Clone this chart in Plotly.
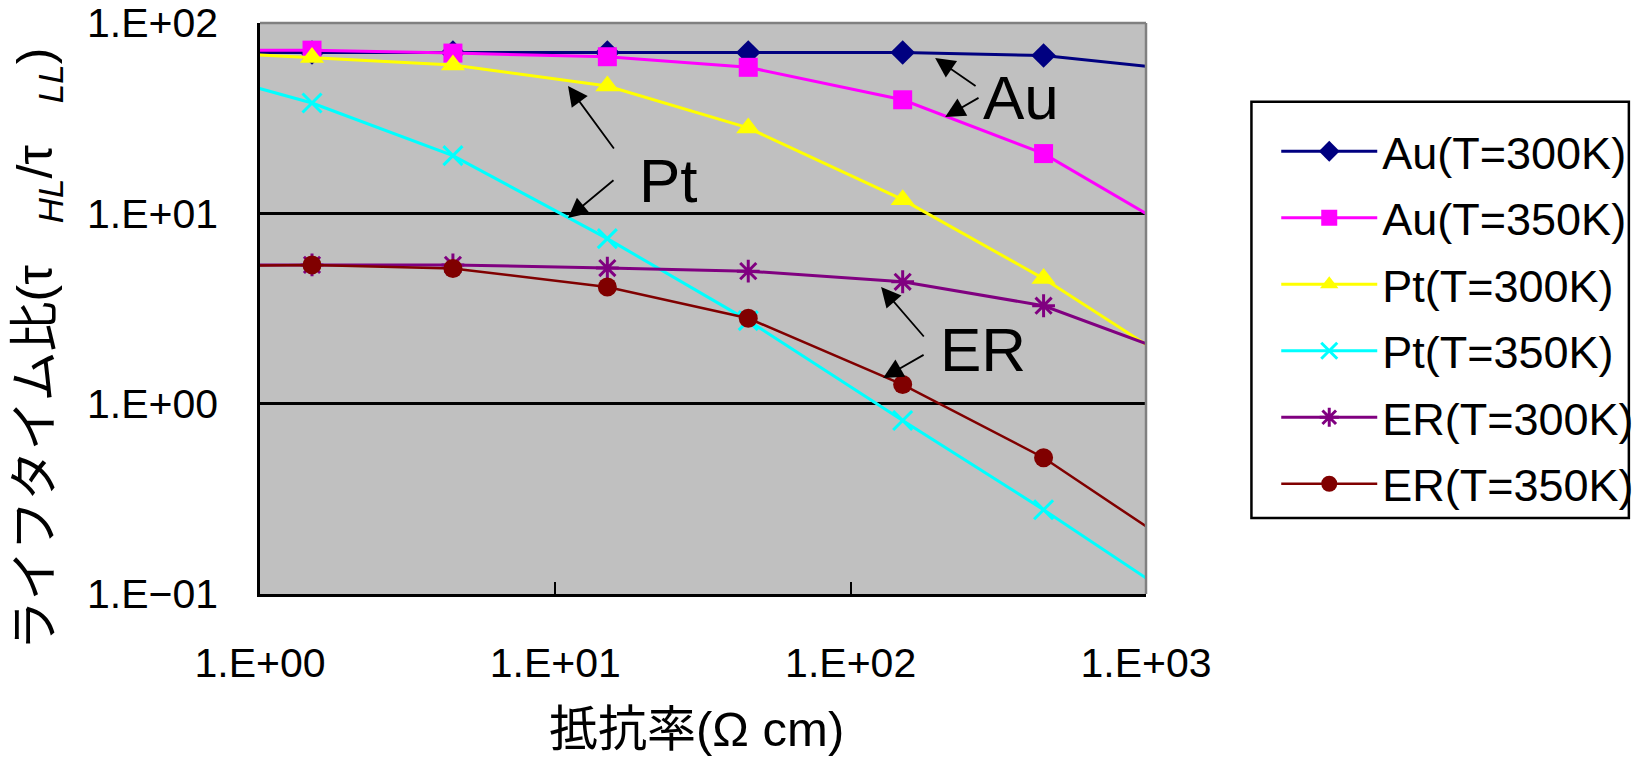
import plotly.graph_objects as go

# ---- data ----
resistivity = [0.9, 1.5, 4.5, 15, 45, 150, 450, 1150]   # end points lie just outside the axis range
au_300 = [70, 70, 70, 70, 70, 70, 67.5, 58]
au_350 = [72, 72, 69.5, 66.5, 58.5, 39.5, 20.6, 8.8]
pt_300 = [68.5, 65.8, 60.1, 46.7, 28.1, 11.8, 4.54, 1.78]
pt_350 = [47.3, 38.0, 20.1, 7.36, 2.73, 0.816, 0.277, 0.105]
er_300 = [5.36, 5.36, 5.36, 5.16, 4.97, 4.37, 3.27, 1.91]
er_350 = [5.3, 5.36, 5.13, 4.10, 2.81, 1.26, 0.52, 0.196]

series_names = ["Au(T=300K)", "Au(T=350K)", "Pt(T=300K)", "Pt(T=350K)", "ER(T=300K)", "ER(T=350K)"]
series_values = [au_300, au_350, pt_300, pt_350, er_300, er_350]

x_tick_vals = [1, 10, 100, 1000]
x_tick_text = ["1.E+00", "1.E+01", "1.E+02", "1.E+03"]
y_tick_vals = [0.1, 1, 10, 100]
y_tick_text = ["1.E−01", "1.E+00", "1.E+01", "1.E+02"]

x_title = "抵抗率(Ω cm)"
y_title = "ライフタイム比(τ   <sub><i>HL</i></sub>/τ   <sub><i>LL</i></sub>)"

# ---- styles ----
colors = ["#000080", "#FF00FF", "#FFFF00", "#00FFFF", "#800080", "#800000"]
symbols = ["diamond", "square", "triangle-up", "x-thin-open", "asterisk-open", "circle"]
msizes = [19, 19, 21, 19, 19, 19]
lwidths = [3, 3, 3, 3, 3, 2.5]

FONT = "Liberation Sans, Arial, Noto Sans CJK JP"

fig = go.Figure()
for name, vals, c, s, ms, lw in zip(series_names, series_values, colors, symbols, msizes, lwidths):
    marker = dict(symbol=s, size=ms, color=c)
    if s.endswith("open"):
        marker["line"] = dict(color=c, width=3)
    else:
        marker["line"] = dict(width=0)
    fig.add_trace(go.Scatter(
        x=resistivity, y=vals, name=name, mode="lines+markers",
        line=dict(color=c, width=lw), marker=marker, legendgroup=name,
    ))

# ---- annotations ----
ann = []
def label(text, x, y):
    ann.append(dict(text=text, x=x, y=y, xref="x", yref="y", showarrow=False,
                    font=dict(family=FONT, size=62, color="black")))

def arrow(hx, hy, tx, ty):
    ann.append(dict(text="", x=hx, y=hy, ax=tx, ay=ty, xref="x", yref="y",
                    axref="x", ayref="y", showarrow=True, arrowhead=2,
                    arrowsize=2.2, arrowwidth=1.8, arrowcolor="black"))

label("Au", 2.577, 1.606)
arrow(2.286, 1.816, 2.428, 1.664)
arrow(2.320, 1.506, 2.438, 1.611)
label("Pt", 1.382, 1.170)
arrow(1.043, 1.669, 1.202, 1.333)
arrow(1.043, 0.975, 1.202, 1.180)
label("ER", 2.448, 0.282)
arrow(2.103, 0.613, 2.252, 0.345)
arrow(2.110, 0.135, 2.252, 0.261)

# axis titles as annotations (positioned like the reference)
ann.append(dict(text=y_title, xref="paper", yref="paper", x=-0.2495, y=0.43,
                xanchor="center", yanchor="middle", textangle=-90, showarrow=False,
                font=dict(family=FONT, size=50, color="black")))
ann.append(dict(text=x_title, xref="paper", yref="paper", x=0.493, y=-0.237,
                xanchor="center", yanchor="middle", showarrow=False,
                font=dict(family=FONT, size=49, color="black")))

# page body adds an 8px offset; compensate by shrinking figure
fig.update_layout(
    width=1640, height=750,
    margin=dict(l=252, r=502, t=15, b=164, autoexpand=False),
    paper_bgcolor="white", plot_bgcolor="#C0C0C0",
    font=dict(family=FONT, size=41, color="black"),
    annotations=ann,
    legend=dict(
        x=1.147, y=0.838, xanchor="left", yanchor="top",
        bgcolor="rgba(0,0,0,0)", borderwidth=0,
        font=dict(family=FONT, size=45, color="black"),
        itemwidth=96, tracegroupgap=5,
    ),
    shapes=[
        dict(type="line", xref="paper", yref="paper", x0=0, x1=1, y0=1, y1=1,
             line=dict(color="#808080", width=2.5), layer="above"),
        dict(type="line", xref="paper", yref="paper", x0=1, x1=1, y0=0, y1=1,
             line=dict(color="#808080", width=2.5), layer="above"),
        dict(type="rect", xref="paper", yref="paper", x0=1.119, x1=1.545, y0=0.133, y1=0.862,
             line=dict(color="black", width=2.5), fillcolor="white", layer="below"),
    ],
)

fig.update_xaxes(
    type="log", range=[0, 3], tickvals=x_tick_vals, ticktext=x_tick_text,
    automargin=False, ticklabeloverflow="allow",
    showgrid=False, zeroline=False,
    showline=True, linecolor="black", linewidth=2.5,
    ticks="inside", ticklen=12, tickwidth=2, tickcolor="black",
    ticklabelstandoff=31,
    tickfont=dict(family=FONT, size=41),
)
fig.update_yaxes(
    type="log", range=[-1, 2], tickvals=y_tick_vals, ticktext=y_tick_text,
    automargin=False, ticklabeloverflow="allow",
    showgrid=True, gridcolor="black", gridwidth=2.5, zeroline=False,
    showline=True, linecolor="black", linewidth=2.5,
    ticks="inside", ticklen=8, tickwidth=2, tickcolor="black",
    ticklabelstandoff=31,
    tickfont=dict(family=FONT, size=41),
)

fig.write_html("out.html")
